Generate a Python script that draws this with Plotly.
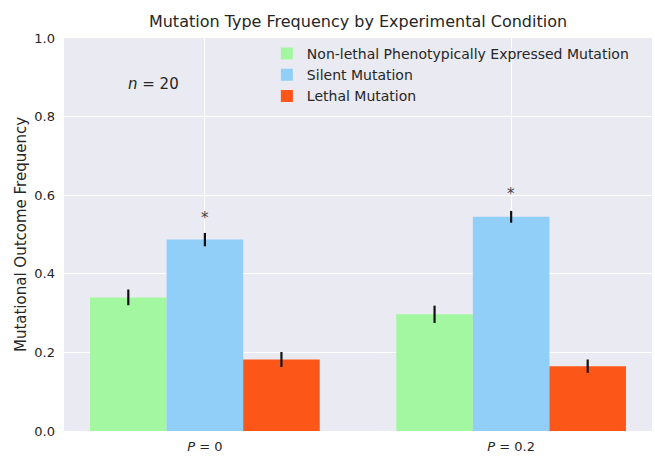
import plotly.graph_objects as go

conditions = [0, 1]
tick_labels = ["<i>P</i> = 0", "<i>P</i> = 0.2"]
series_names = ["Non-lethal Phenotypically Expressed Mutation", "Silent Mutation", "Lethal Mutation"]
nonlethal = [0.340, 0.297]
nonlethal_err = [0.020, 0.022]
silent = [0.487, 0.545]
silent_err = [0.017, 0.015]
lethal = [0.182, 0.165]
lethal_err = [0.019, 0.017]
star_y = [0.541, 0.602]
colors = ["#A2F7A0", "#92CFF8", "#FD5619"]

fig = go.Figure()
for name, vals, errs, col in zip(series_names, [nonlethal, silent, lethal],
                                 [nonlethal_err, silent_err, lethal_err], colors):
    fig.add_trace(go.Bar(
        x=conditions, y=vals, name=name,
        marker=dict(color=col, line=dict(width=0)),
        error_y=dict(type="data", array=errs, visible=True, thickness=2.2,
                     width=0, color="#111111"),
    ))

for xv, yv in zip(conditions, star_y):
    fig.add_annotation(x=xv, y=yv, text="*", showarrow=False,
                       font=dict(size=15, color="#444444"), yanchor="middle")

fig.add_annotation(x=0.153, y=0.883, xref="paper", yref="paper",
                   xanchor="center", yanchor="middle",
                   text="<i>n</i> = 20", showarrow=False,
                   font=dict(size=15, color="#262626"))

fig.update_layout(
    width=655, height=463,
    margin=dict(l=64, r=3, t=38, b=32),
    paper_bgcolor="white",
    plot_bgcolor="#EAEAF2",
    barmode="group", bargap=0.25, bargroupgap=0,
    font=dict(family="DejaVu Sans", color="#262626"),
    title=dict(text="Mutation Type Frequency by Experimental Condition",
               x=0.5, xref="paper", y=1 - 21 / 463, yref="container",
               yanchor="middle", font=dict(size=16, color="#262626")),
    legend=dict(x=0.345, y=1.0, xanchor="left", yanchor="top",
                bgcolor="rgba(0,0,0,0)", font=dict(size=14, color="#262626"),
                tracegroupgap=0, itemwidth=30),
    xaxis=dict(range=[-0.46, 1.46], tickvals=conditions, ticktext=tick_labels,
               showgrid=True, gridcolor="white", gridwidth=1, zeroline=False,
               tickfont=dict(size=13, color="#262626"), ticks="", showline=False,
               ticklabelstandoff=6),
    yaxis=dict(range=[0, 1.0], dtick=0.2, tickformat=".1f",
               showgrid=True, gridcolor="white", gridwidth=1.2, zeroline=False,
               tickfont=dict(size=13, color="#262626"), ticks="",
               ticklabelstandoff=8,
               title=dict(text="Mutational Outcome Frequency",
                          font=dict(size=15, color="#262626"), standoff=4)),
)

fig.write_html("out.html")
